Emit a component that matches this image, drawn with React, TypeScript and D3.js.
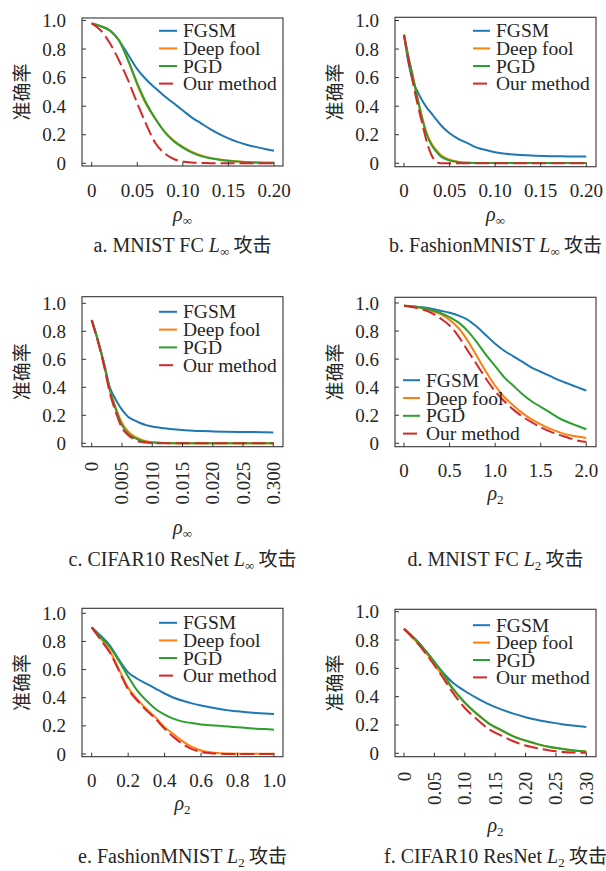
import React from "react";
import * as d3 from "d3";

// ---------- DATA ----------
const seriesNames = ["FGSM", "Deep fool", "PGD", "Our method"];
const seriesColors = ["#1f77b4", "#ff7f0e", "#2ca02c", "#d62728"];

const yTicks = [0, 0.2, 0.4, 0.6, 0.8, 1.0];
const yTickLabels = ["0", "0.2", "0.4", "0.6", "0.8", "1.0"];

// a. MNIST FC L∞
const aX = [0, 0.01, 0.02, 0.03, 0.04, 0.05, 0.06, 0.07, 0.08, 0.09, 0.10, 0.11, 0.12, 0.13, 0.14, 0.15, 0.16, 0.17, 0.18, 0.19, 0.20];
const aFGSM = [0.98, 0.96, 0.93, 0.86, 0.76, 0.66, 0.585, 0.525, 0.47, 0.42, 0.37, 0.32, 0.28, 0.24, 0.205, 0.175, 0.15, 0.13, 0.115, 0.10, 0.088];
const aDeepFool = [0.98, 0.96, 0.93, 0.86, 0.72, 0.55, 0.41, 0.31, 0.22, 0.16, 0.115, 0.08, 0.055, 0.038, 0.027, 0.019, 0.013, 0.009, 0.006, 0.004, 0.003];
const aPGD = [0.98, 0.96, 0.93, 0.86, 0.72, 0.56, 0.42, 0.31, 0.22, 0.155, 0.11, 0.075, 0.05, 0.035, 0.025, 0.017, 0.012, 0.008, 0.005, 0.004, 0.003];
const aOurs = [0.98, 0.93, 0.84, 0.72, 0.58, 0.42, 0.27, 0.14, 0.07, 0.03, 0.012, 0.005, 0.002, 0.001, 0, 0, 0, 0, 0, 0, 0];
const aTicks = [0, 0.05, 0.10, 0.15, 0.20];
const aTickLabels = ["0", "0.05", "0.10", "0.15", "0.20"];

// b. FashionMNIST L∞
const bX = [0, 0.005, 0.01, 0.015, 0.02, 0.025, 0.03, 0.035, 0.04, 0.05, 0.06, 0.07, 0.08, 0.09, 0.10, 0.12, 0.14, 0.16, 0.18, 0.20];
const bFGSM = [0.90, 0.70, 0.57, 0.50, 0.44, 0.39, 0.35, 0.31, 0.27, 0.21, 0.17, 0.14, 0.11, 0.093, 0.078, 0.062, 0.054, 0.05, 0.048, 0.047];
const bDeepFool = [0.90, 0.74, 0.60, 0.45, 0.32, 0.21, 0.14, 0.095, 0.06, 0.025, 0.01, 0.004, 0.002, 0.002, 0.002, 0.002, 0.002, 0.002, 0.002, 0.002];
const bPGD = [0.90, 0.74, 0.60, 0.45, 0.31, 0.20, 0.13, 0.085, 0.05, 0.02, 0.008, 0.003, 0.002, 0.002, 0.002, 0.002, 0.002, 0.002, 0.002, 0.002];
const bOurs = [0.90, 0.72, 0.56, 0.41, 0.28, 0.15, 0.06, 0.012, 0, 0, 0, 0, 0, 0, 0, 0, 0, 0, 0, 0];
const bTicks = [0, 0.05, 0.10, 0.15, 0.20];
const bTickLabels = ["0", "0.05", "0.10", "0.15", "0.20"];

// c. CIFAR10 ResNet L∞
const cX = [0, 0.001, 0.002, 0.003, 0.004, 0.005, 0.006, 0.007, 0.008, 0.009, 0.010, 0.012, 0.014, 0.016, 0.018, 0.020, 0.022, 0.025, 0.028, 0.030];
const cFGSM = [0.88, 0.74, 0.58, 0.40, 0.31, 0.24, 0.19, 0.165, 0.145, 0.13, 0.12, 0.107, 0.098, 0.092, 0.088, 0.085, 0.083, 0.081, 0.079, 0.077];
const cDeepFool = [0.88, 0.74, 0.57, 0.38, 0.25, 0.145, 0.085, 0.05, 0.03, 0.015, 0.008, 0.003, 0.001, 0.001, 0.001, 0.001, 0.001, 0.001, 0.001, 0.001];
const cPGD = [0.88, 0.74, 0.57, 0.38, 0.24, 0.13, 0.07, 0.04, 0.02, 0.01, 0.005, 0.002, 0.001, 0.001, 0.001, 0.001, 0.001, 0.001, 0.001, 0.001];
const cOurs = [0.88, 0.73, 0.56, 0.36, 0.22, 0.11, 0.06, 0.03, 0.01, 0.005, 0.002, 0, 0, 0, 0, 0, 0, 0, 0, 0];
const cTicks = [0, 0.005, 0.010, 0.015, 0.020, 0.025, 0.030];
const cTickLabels = ["0", "0.005", "0.010", "0.015", "0.020", "0.025", "0.300"];

// d. MNIST FC L2
const dX = [0, 0.1, 0.2, 0.3, 0.4, 0.5, 0.6, 0.7, 0.8, 0.9, 1.0, 1.1, 1.2, 1.3, 1.4, 1.5, 1.6, 1.7, 1.8, 1.9, 2.0];
const dFGSM = [0.98, 0.975, 0.97, 0.96, 0.945, 0.93, 0.91, 0.88, 0.83, 0.77, 0.71, 0.66, 0.62, 0.58, 0.54, 0.51, 0.48, 0.45, 0.425, 0.40, 0.375];
const dDeepFool = [0.98, 0.975, 0.965, 0.945, 0.92, 0.88, 0.82, 0.73, 0.62, 0.51, 0.41, 0.33, 0.27, 0.215, 0.17, 0.135, 0.105, 0.08, 0.06, 0.048, 0.038];
const dPGD = [0.98, 0.975, 0.965, 0.95, 0.93, 0.90, 0.86, 0.80, 0.72, 0.63, 0.55, 0.47, 0.41, 0.35, 0.30, 0.26, 0.22, 0.18, 0.15, 0.125, 0.10];
const dOurs = [0.98, 0.97, 0.955, 0.93, 0.89, 0.84, 0.76, 0.66, 0.56, 0.46, 0.37, 0.30, 0.24, 0.19, 0.15, 0.115, 0.085, 0.06, 0.04, 0.02, 0.01];
const dTicks = [0, 0.5, 1.0, 1.5, 2.0];
const dTickLabels = ["0", "0.5", "1.0", "1.5", "2.0"];

// e. FashionMNIST L2
const eX = [0, 0.05, 0.1, 0.15, 0.2, 0.25, 0.3, 0.35, 0.4, 0.45, 0.5, 0.55, 0.6, 0.65, 0.7, 0.75, 0.8, 0.85, 0.9, 0.95, 1.0];
const eFGSM = [0.9, 0.84, 0.77, 0.67, 0.58, 0.535, 0.50, 0.465, 0.43, 0.40, 0.378, 0.36, 0.345, 0.332, 0.32, 0.31, 0.303, 0.297, 0.292, 0.288, 0.285];
const eDeepFool = [0.9, 0.82, 0.73, 0.60, 0.47, 0.39, 0.32, 0.26, 0.19, 0.14, 0.09, 0.05, 0.025, 0.012, 0.006, 0.003, 0.002, 0.002, 0.002, 0.002, 0.002];
const ePGD = [0.9, 0.83, 0.76, 0.66, 0.55, 0.45, 0.38, 0.32, 0.28, 0.25, 0.23, 0.22, 0.21, 0.205, 0.20, 0.195, 0.19, 0.185, 0.18, 0.177, 0.173];
const eOurs = [0.9, 0.81, 0.72, 0.59, 0.46, 0.38, 0.31, 0.25, 0.18, 0.12, 0.07, 0.035, 0.015, 0.006, 0.002, 0, 0, 0, 0, 0, 0];
const eTicks = [0, 0.2, 0.4, 0.6, 0.8, 1.0];
const eTickLabels = ["0", "0.2", "0.4", "0.6", "0.8", "1.0"];

// f. CIFAR10 ResNet L2
const fX = [0, 0.02, 0.04, 0.06, 0.08, 0.10, 0.12, 0.14, 0.16, 0.18, 0.20, 0.22, 0.24, 0.26, 0.28, 0.30];
const fFGSM = [0.88, 0.80, 0.70, 0.59, 0.50, 0.44, 0.39, 0.345, 0.31, 0.28, 0.255, 0.235, 0.22, 0.205, 0.195, 0.185];
const fDeepFool = [0.88, 0.79, 0.69, 0.57, 0.455, 0.355, 0.275, 0.21, 0.16, 0.12, 0.088, 0.063, 0.044, 0.03, 0.02, 0.012];
const fPGD = [0.88, 0.80, 0.70, 0.59, 0.46, 0.36, 0.28, 0.21, 0.165, 0.12, 0.09, 0.065, 0.045, 0.032, 0.02, 0.013];
const fOurs = [0.88, 0.79, 0.68, 0.56, 0.43, 0.32, 0.24, 0.17, 0.125, 0.085, 0.055, 0.035, 0.02, 0.01, 0.005, 0.003];
const fTicks = [0, 0.05, 0.10, 0.15, 0.20, 0.25, 0.30];
const fTickLabels = ["0", "0.05", "0.10", "0.15", "0.20", "0.25", "0.30"];

// ---------- LAYOUT ----------
const FONT = "'Liberation Serif', 'Times New Roman', Times, serif";
const CJK = "'Noto Sans CJK SC', 'Noto Sans CJK JP', sans-serif";
const INK = "#262626";

type Panel = {
  xs: number[];
  series: number[][];
  ticks: number[];
  tickLabels: string[];
  rotate: boolean;
  xPx: [number, number];
  xMax: number;
  yPx: [number, number];
  box: [number, number, number, number];
  legend: { x0: number; x1: number; tx: number; b0: number; step: number };
  xlabelSub: string;
  xlabelY: number;
  caption: string;
  capSub: string;
  capY: number;
};

const panels: Panel[] = [
  {
    xs: aX, series: [aFGSM, aDeepFool, aPGD, aOurs], ticks: aTicks, tickLabels: aTickLabels, rotate: false,
    xPx: [91.7, 274], xMax: 0.2, yPx: [163.3, 20.5], box: [82, 283, 18, 166],
    legend: { x0: 159, x1: 177, tx: 183, b0: 37.3, step: 17.6 },
    xlabelSub: "∞", xlabelY: 221, caption: "a. MNIST FC ", capSub: "∞", capY: 252,
  },
  {
    xs: bX, series: [bFGSM, bDeepFool, bPGD, bOurs], ticks: bTicks, tickLabels: bTickLabels, rotate: false,
    xPx: [404, 586.3], xMax: 0.2, yPx: [163.3, 20.5], box: [395, 596, 17.3, 166.7],
    legend: { x0: 473, x1: 490, tx: 496, b0: 37.3, step: 17.6 },
    xlabelSub: "∞", xlabelY: 221, caption: "b. FashionMNIST ", capSub: "∞", capY: 252,
  },
  {
    xs: cX, series: [cFGSM, cDeepFool, cPGD, cOurs], ticks: cTicks, tickLabels: cTickLabels, rotate: true,
    xPx: [91.7, 273.3], xMax: 0.03, yPx: [443.3, 303.3], box: [82, 283, 296.7, 446.7],
    legend: { x0: 159, x1: 177, tx: 183, b0: 318.3, step: 17.8 },
    xlabelSub: "∞", xlabelY: 534, caption: "c. CIFAR10 ResNet ", capSub: "∞", capY: 566,
  },
  {
    xs: dX, series: [dFGSM, dDeepFool, dPGD, dOurs], ticks: dTicks, tickLabels: dTickLabels, rotate: false,
    xPx: [404, 586.3], xMax: 2.0, yPx: [443.3, 303], box: [395, 596, 297.3, 446.7],
    legend: { x0: 403, x1: 420, tx: 426, b0: 386.7, step: 17.8 },
    xlabelSub: "2", xlabelY: 500, caption: "d. MNIST FC ", capSub: "2", capY: 566,
  },
  {
    xs: eX, series: [eFGSM, eDeepFool, ePGD, eOurs], ticks: eTicks, tickLabels: eTickLabels, rotate: false,
    xPx: [91.7, 274], xMax: 1.0, yPx: [754, 613.3], box: [82, 283, 608.3, 756.7],
    legend: { x0: 159, x1: 177, tx: 183, b0: 629.3, step: 17.6 },
    xlabelSub: "2", xlabelY: 810, caption: "e. FashionMNIST ", capSub: "2", capY: 863,
  },
  {
    xs: fX, series: [fFGSM, fDeepFool, fPGD, fOurs], ticks: fTicks, tickLabels: fTickLabels, rotate: true,
    xPx: [404, 586.3], xMax: 0.3, yPx: [753.3, 611.7], box: [395, 596, 609.3, 756.7],
    legend: { x0: 473, x1: 490, tx: 496, b0: 631.7, step: 17.4 },
    xlabelSub: "2", xlabelY: 831.7, caption: "f. CIFAR10 ResNet ", capSub: "2", capY: 863,
  },
];

const DASH = "14 5";

function PanelView({ p }: { p: Panel }) {
  const x = d3.scaleLinear().domain([0, p.xMax]).range(p.xPx);
  const y = d3.scaleLinear().domain([0, 1]).range(p.yPx);
  const [L, R, T, B] = p.box;
  const cx = (L + R) / 2;
  const cy = (T + B) / 2;
  const line = d3
    .line<number>()
    .x((_, i) => x(p.xs[i]))
    .y((v) => y(v))
    .curve(d3.curveMonotoneX);

  return (
    <g>
      {p.series.map((s, k) => (
        <path
          key={k}
          d={line(s) || ""}
          fill="none"
          stroke={seriesColors[k]}
          strokeWidth={2}
          strokeDasharray={k === 3 ? DASH : undefined}
          strokeLinejoin="round"
        />
      ))}
      <rect x={L} y={T} width={R - L} height={B - T} fill="none" stroke="#333" strokeWidth={1.1} />
      {p.ticks.map((t, i) => (
        <g key={"xt" + i}>
          <line x1={x(t)} x2={x(t)} y1={B} y2={B - 4} stroke="#333" strokeWidth={1} />
          {p.rotate ? (
            <text
              transform={`translate(${x(t)},${B + 15}) rotate(-90)`}
              textAnchor="end"
              dominantBaseline="central"
              fontFamily={FONT}
              fontSize={19}
              fill={INK}
            >
              {p.tickLabels[i]}
            </text>
          ) : (
            <text x={x(t)} y={B + 30.7} textAnchor="middle" fontFamily={FONT} fontSize={19} fill={INK}>
              {p.tickLabels[i]}
            </text>
          )}
        </g>
      ))}
      {yTicks.map((t, i) => (
        <g key={"yt" + i}>
          <line x1={L} x2={L + 4} y1={y(t)} y2={y(t)} stroke="#333" strokeWidth={1} />
          <text x={L - 16} y={y(t) + 6.5} textAnchor="end" fontFamily={FONT} fontSize={19} fill={INK}>
            {yTickLabels[i]}
          </text>
        </g>
      ))}
      <text
        transform={`translate(${L - 62},${cy}) rotate(-90)`}
        textAnchor="middle"
        dominantBaseline="central"
        fontFamily={CJK}
        fontSize={19}
        fill={INK}
      >
        准确率
      </text>
      <text x={cx} y={p.xlabelY} textAnchor="middle" fontFamily={FONT} fontSize={20} fill={INK}>
        <tspan fontStyle="italic">ρ</tspan>
        <tspan fontSize={13} dy={4}>{p.xlabelSub}</tspan>
      </text>
      {seriesNames.map((n, k) => {
        const b = p.legend.b0 + k * p.legend.step;
        return (
          <g key={"lg" + k}>
            <line
              x1={p.legend.x0}
              x2={p.legend.x1}
              y1={b - 6.5}
              y2={b - 6.5}
              stroke={seriesColors[k]}
              strokeWidth={2}
              strokeDasharray={k === 3 ? DASH : undefined}
            />
            <text x={p.legend.tx} y={b} fontFamily={FONT} fontSize={19.5} fill={INK}>
              {n}
            </text>
          </g>
        );
      })}
      <text x={cx} y={p.capY} textAnchor="middle" fontFamily={FONT} fontSize={20} fill={INK}>
        {p.caption}
        <tspan fontStyle="italic">L</tspan>
        <tspan fontSize={13} dy={4}>{p.capSub}</tspan>
        <tspan dy={-4} fontFamily={CJK} fontSize={19}>{" 攻击"}</tspan>
      </text>
    </g>
  );
}

export default function App() {
  return (
    <svg
      width={606}
      height={871}
      viewBox="0 0 606 871"
      style={{ position: "absolute", left: 0, top: 0, background: "#fff" }}
    >
      <rect x={0} y={0} width={606} height={871} fill="#fff" />
      {panels.map((p, i) => (
        <PanelView key={i} p={p} />
      ))}
    </svg>
  );
}
